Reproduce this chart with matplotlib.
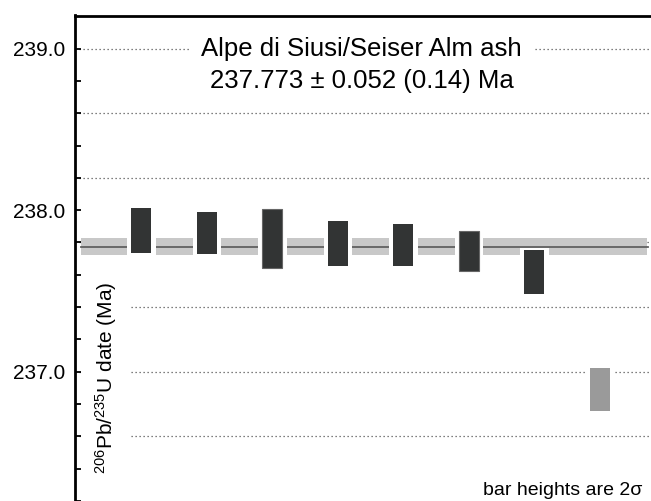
import matplotlib
matplotlib.use('Agg')
import matplotlib.pyplot as plt

plt.rcParams['font.family'] = ['Liberation Sans', 'DejaVu Sans']
plt.rcParams['mathtext.fontset'] = 'custom'
plt.rcParams['mathtext.rm'] = 'Liberation Sans'
plt.rcParams['mathtext.it'] = 'Liberation Sans:italic'

# grain dates (Ma) and bar half heights
dates = [237.8745, 237.8565, 237.8255, 237.793, 237.7865, 237.746, 237.6155, 236.889]
halfs = [0.1405, 0.1305, 0.1815, 0.137, 0.1305, 0.124, 0.1365, 0.134]
colors = ['#323434'] * 7 + ['#9a9a9a']
edges = ['none', 'none', '#666666', 'none', 'none', '#666666', 'none', 'none']
mean_age = 237.773
mean_err = 0.052

fig = plt.figure(figsize=(6.51, 5.01), dpi=100)
ax = fig.add_axes([75 / 651, 0, 576 / 651, 1 - 15.5 / 501])

x = list(range(1, len(dates) + 1))
ax.set_xlim(-0.015, 8.779)
ax.set_ylim(236.234, 239.205)

# dotted grid lines every 0.4
for g in [239.0, 238.6, 238.2, 237.8, 237.4, 237.0, 236.6]:
    ax.axhline(g, color='#555555', lw=0.9, ls=(0, (1, 2.2)), zorder=1)

# weighted mean band + line
ax.fill_between([0.0763, 8.718], mean_age - mean_err, mean_age + mean_err,
                color='#c8c8c8', lw=0, zorder=2)
ax.plot([0.0763, 8.73], [mean_age, mean_age], color='#606060', lw=1.3, zorder=3)

# white gaps around bars, then the bars
bw = 0.305
pad_w = 0.44
for xi, d, h, c, e in zip(x, dates, halfs, colors, edges):
    ax.bar(xi, 2 * h + 0.024, bottom=d - h - 0.012, width=pad_w, color='white',
           lw=0, zorder=4)
    ax.bar(xi, 2 * h, bottom=d - h, width=bw, color=c, edgecolor=e,
           lw=0.8 if e != 'none' else 0, zorder=5)

ax.set_xticks([])
ax.set_yticks([239.0, 238.0, 237.0])
ax.set_yticklabels(['239.0', '238.0', '237.0'])
ax.set_yticks([239.0 - 0.2 * i for i in range(15)], minor=True)
ax.tick_params(axis='y', which='both', direction='in', length=4, width=1.3,
               labelsize=15, pad=7)
ax.tick_params(axis='y', which='minor', labelleft=False)

for s in ['right', 'bottom']:
    ax.spines[s].set_visible(False)
ax.spines['left'].set_linewidth(2)
ax.spines['top'].set_linewidth(2)
ax.spines['top'].set_zorder(10)
ax.spines['left'].set_zorder(10)

ax.text(0.4975, 0.931, 'Alpe di Siusi/Seiser Alm ash', transform=ax.transAxes,
        ha='center', va='center', fontsize=18.5, zorder=6,
        bbox=dict(facecolor='white', edgecolor='none', pad=8))
ax.text(0.4985, 0.865, '237.773 \u00b1 0.052 (0.14) Ma', transform=ax.transAxes,
        ha='center', va='center', fontsize=18.5, zorder=6)

ax.text(0.0538, 0.2533, r'$^{206}$Pb/$^{235}$U date (Ma)', transform=ax.transAxes,
        rotation=90, ha='center', va='center', fontsize=15, zorder=6,
        bbox=dict(facecolor='white', edgecolor='none', pad=9))

ax.text(0.985, 0.004, 'bar heights are 2\u03c3', transform=ax.transAxes,
        ha='right', va='bottom', fontsize=14, zorder=6)

fig.savefig('out.png', dpi=100)
